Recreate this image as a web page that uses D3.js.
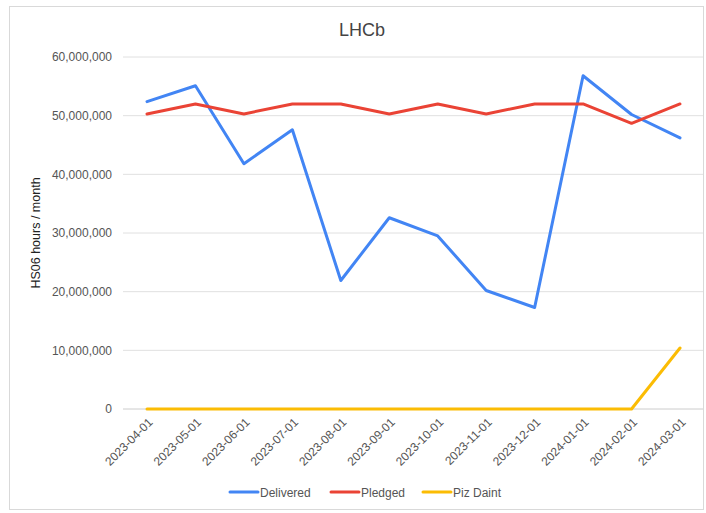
<!DOCTYPE html>
<html><head><meta charset="utf-8">
<script src="https://cdn.jsdelivr.net/npm/d3@7"></script>
<style>body{margin:0;background:#fff;font-family:"Liberation Sans",Arial,sans-serif;}</style>
</head><body>
<svg id="c" width="706" height="513"></svg>
<script>
const months = ["2023-04-01","2023-05-01","2023-06-01","2023-07-01","2023-08-01","2023-09-01","2023-10-01","2023-11-01","2023-12-01","2024-01-01","2024-02-01","2024-03-01"];
const delivered = [52400000,55100000,41800000,47600000,21900000,32600000,29500000,20200000,17300000,56800000,50200000,46200000];
const pledged = [50300000,52000000,50300000,52000000,52000000,50300000,52000000,50300000,52000000,52000000,48700000,52000000];
const pizDaint = [0,0,0,0,0,0,0,0,0,0,0,10400000];
const yTicks = [0,10000000,20000000,30000000,40000000,50000000,60000000];
const seriesNames = ["Delivered","Pledged","Piz Daint"];
const colors = ["#4285F4","#EA4335","#FBBC04"];

const svg = d3.select("#c");
svg.append("rect").attr("x",9.5).attr("y",6.5).attr("width",694).attr("height",503)
  .attr("fill","#fff").attr("stroke","#d9d9d9");

const x = d3.scalePoint().domain(months).range([147,680]);
const y = d3.scaleLinear().domain([0,60000000]).range([409,57]);
const txt = "#555";

svg.append("g").selectAll("line").data(yTicks).join("line")
  .attr("x1",123).attr("x2",703).attr("y1",d=>y(d)).attr("y2",d=>y(d))
  .attr("stroke",d=>d===0?"#ccc":"#e0e0e0").attr("stroke-width",1);

const yAxis = svg.append("g").attr("transform","translate(123,0)")
  .call(d3.axisLeft(y).tickValues(yTicks).tickSize(0).tickPadding(11).tickFormat(d3.format(",")));
yAxis.select(".domain").remove();
yAxis.selectAll("text").attr("fill",txt).style("font-size","12px").style("font-family","Liberation Sans, Arial, sans-serif");

const xAxis = svg.append("g").attr("transform","translate(0,409)")
  .call(d3.axisBottom(x).tickSize(0).tickPadding(0));
xAxis.select(".domain").remove();
xAxis.selectAll("text").attr("fill",txt).style("font-size","12px").style("font-family","Liberation Sans, Arial, sans-serif")
  .attr("text-anchor","end").attr("dy",0).attr("y",0)
  .attr("transform","translate(6,14) rotate(-45)");

svg.append("text").attr("transform","translate(40,233) rotate(-90)")
  .attr("text-anchor","middle").attr("fill","#222").style("font-size","12.5px").text("HS06 hours / month");

svg.append("text").attr("x",362).attr("y",36).attr("text-anchor","middle")
  .attr("fill","#444").style("font-size","18px").text("LHCb");

const data = [delivered,pledged,pizDaint];
const line = d3.line().x((d,i)=>x(months[i])).y(d=>y(d));
[0,1,2].forEach(k=>{
  svg.append("path").datum(data[k]).attr("d",line).attr("fill","none")
    .attr("stroke",colors[k]).attr("stroke-width",3).attr("stroke-linejoin","round").attr("stroke-linecap","round");
});

const legX = [230,331,423];
const lg = svg.append("g");
seriesNames.forEach((n,i)=>{
  lg.append("line").attr("x1",legX[i]).attr("x2",legX[i]+28).attr("y1",492).attr("y2",492)
    .attr("stroke",colors[i]).attr("stroke-width",3).attr("stroke-linecap","round");
  lg.append("text").attr("x",legX[i]+30).attr("y",496.5).attr("fill",txt).style("font-size","12px").text(n);
});
</script>
</body></html>
